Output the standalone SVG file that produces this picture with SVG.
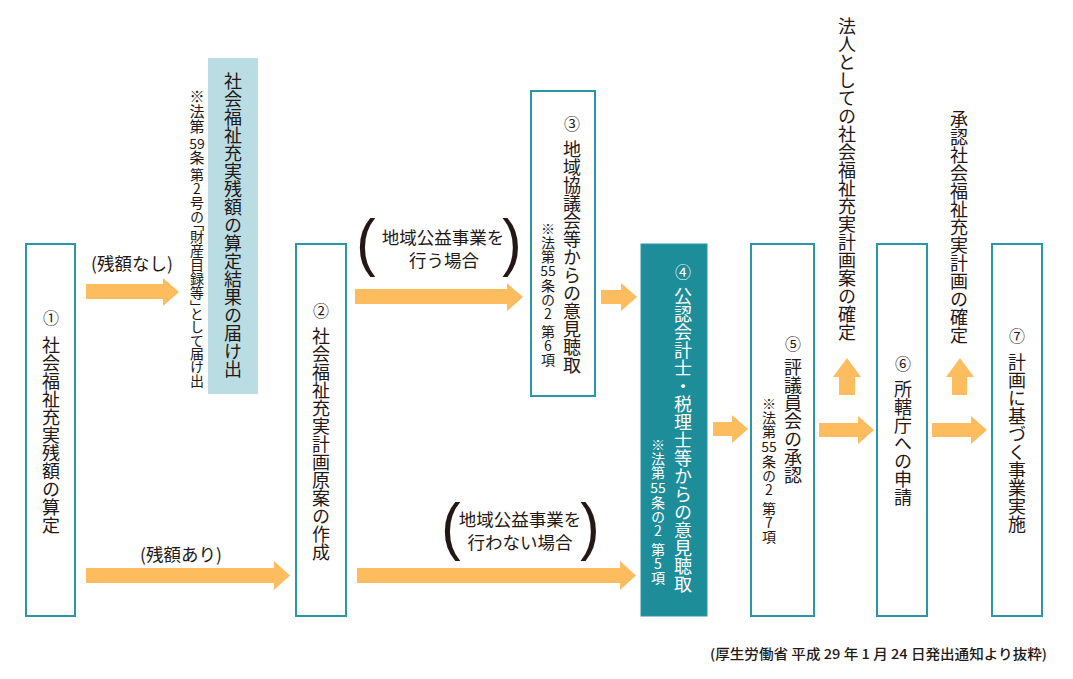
<svg xmlns="http://www.w3.org/2000/svg" width="1073" height="679" viewBox="0 0 1073 679">
<style>
.box{fill:#ffffff;stroke:#2b97a4;stroke-width:2}
.blue{fill:#badde3;stroke:none}
.teal{fill:#1e8d9a;stroke:#2b97a4;stroke-width:1}
.arr{fill:#fdbc5e}
text{font-family:"Noto Sans CJK JP","Noto Sans",sans-serif;fill:#231815}
.v{writing-mode:vertical-rl;text-orientation:upright;font-size:18px}
.c{writing-mode:vertical-rl;text-orientation:upright;font-size:16px}
.n{writing-mode:vertical-rl;text-orientation:upright;font-size:14px}
.na{writing-mode:vertical-rl;text-orientation:upright;font-size:15px}
.vp{font-feature-settings:"vpal"}
.d{font-size:14px;text-anchor:middle}
.w{fill:#ffffff}
.h{font-size:17.5px;text-anchor:middle}
.p{font-family:"Liberation Sans",sans-serif;font-size:58px;text-anchor:middle}
.f{font-size:13.5px;font-weight:500}
</style>
<g id="connectors">
<polygon class="arr" points="86,284 163,284 163,278 179,292 163,306 163,299 86,299"/>
<polygon class="arr" points="86,568 274,568 274,561 290,575.5 274,590 274,583 86,583"/>
<polygon class="arr" points="355,289 507,289 507,283 523,297 507,311 507,304 355,304"/>
<polygon class="arr" points="357,568 620,568 620,561 636,575.5 620,590 620,583 357,583"/>
<polygon class="arr" points="601,290 621,290 621,283 637,297 621,311 621,304 601,304"/>
<polygon class="arr" points="713,422 732,422 732,415 748,429 732,443 732,436 713,436"/>
<polygon class="arr" points="819,423 858,423 858,416 874,430 858,444 858,437 819,437"/>
<polygon class="arr" points="932,423 971,423 971,416 987,430 971,444 971,437 932,437"/>
<polygon class="arr" points="839,395 839,377 833,377 847,358 861,377 855,377 855,395"/>
<polygon class="arr" points="952,395 952,377 946,377 960,358 974,377 967,377 967,395"/>
</g>
<g id="label-nashi"><text class="h" x="132" y="270">(残額なし)</text></g>
<g id="label-ari"><text class="h" x="181" y="561">(残額あり)</text></g>
<g id="label-upper">
<text class="p" transform="translate(366,264) scale(1,1.1)" x="0" y="0">(</text>
<text class="p" transform="translate(512,264) scale(1,1.1)" x="0" y="0">)</text>
<text class="h" x="443" y="244">地域公益事業を</text>
<text class="h" x="444" y="267">行う場合</text>
</g>
<g id="label-lower">
<text class="p" transform="translate(451,548) scale(1,1.1)" x="0" y="0">(</text>
<text class="p" transform="translate(590,548) scale(1,1.1)" x="0" y="0">)</text>
<text class="h" x="520" y="526">地域公益事業を</text>
<text class="h" x="520" y="549">行わない場合</text>
</g>
<g id="node1">
<rect class="box" x="26" y="244" width="49" height="372"/>
<text class="c" x="51" y="310">①</text>
<text class="v" x="51" y="336">社会福祉充実残額の算定</text>
</g>
<g id="node-report">
<rect class="blue" x="208" y="58" width="50" height="336"/>
<text class="v" x="233" y="72">社会福祉充実残額の算定結果の届け出</text>
<text class="na" x="197" y="89">※法第</text>
<text class="d" x="197" y="149">59</text>
<text class="na" x="197" y="150">条</text>
<text class="n vp" x="197" y="168">第2号の「財産目録等」として届け出</text>
</g>
<g id="node2">
<rect class="box" x="296" y="244" width="50" height="372"/>
<text class="c" x="321" y="303">②</text>
<text class="v" x="321" y="327">社会福祉充実計画原案の作成</text>
</g>
<g id="node3">
<rect class="box" x="531" y="91" width="64" height="305"/>
<text class="c" x="572" y="116">③</text>
<text class="v" x="572" y="140">地域協議会等からの意見聴取</text>
<text class="n" x="548" y="222">※法第</text>
<text class="d" x="548" y="276">55</text>
<text class="n" x="548" y="279">条の2</text>
<text class="n" x="548" y="325">第6項</text>
</g>
<g id="node4">
<rect class="teal" x="641" y="244" width="66" height="372"/>
<text class="c w" x="683" y="264">④</text>
<text class="v w" x="683" y="287">公認会計士・税理士等からの意見聴取</text>
<text class="n w" x="658" y="438">※法第</text>
<text class="d w" x="658" y="493">55</text>
<text class="n w" x="658" y="496">条の2</text>
<text class="n w" x="658" y="543">第5項</text>
</g>
<g id="node5">
<rect class="box" x="751" y="244" width="63" height="372"/>
<text class="c" x="793" y="336">⑤</text>
<text class="v" x="793" y="358">評議員会の承認</text>
<text class="n" x="769" y="397">※法第</text>
<text class="d" x="769" y="452">55</text>
<text class="n" x="769" y="455">条の2</text>
<text class="n" x="769" y="502">第7項</text>
</g>
<g id="step-confirm-draft">
<text class="v" x="847" y="17">法人としての社会福祉充実計画案の確定</text>
</g>
<g id="node6">
<rect class="box" x="877" y="244" width="50" height="372"/>
<text class="c" x="903" y="356">⑥</text>
<text class="v" x="903" y="380">所轄庁への申請</text>
</g>
<g id="step-confirm-plan">
<text class="v" x="959" y="110">承認社会福祉充実計画の確定</text>
</g>
<g id="node7">
<rect class="box" x="992" y="244" width="50" height="372"/>
<text class="c" x="1017" y="328">⑦</text>
<text class="v" x="1017" y="353">計画に基づく事業実施</text>
</g>
<g id="footer">
<text class="f" x="710" y="659" textLength="337" lengthAdjust="spacingAndGlyphs">(厚生労働省 平成 29 年 1 月 24 日発出通知より抜粋)</text>
</g>
</svg>
